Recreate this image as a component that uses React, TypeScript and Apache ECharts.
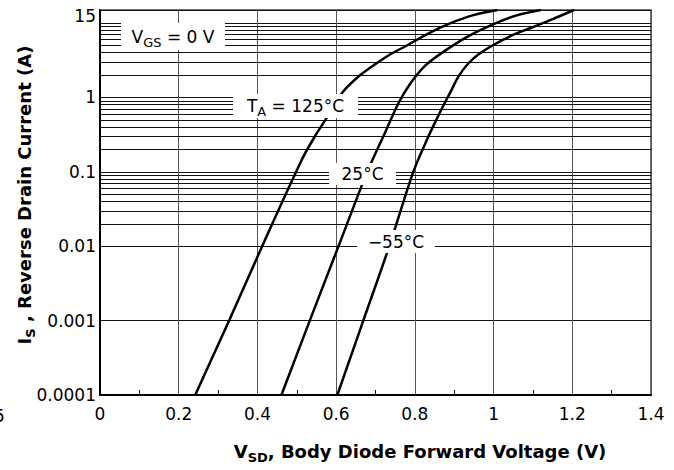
import React, { useEffect, useRef } from 'react';
import * as echarts from 'echarts';

// Curve data (VSD in volts, IS in amperes)
const vsd125 = [0.242, 0.328, 0.412, 0.514, 0.547, 0.578, 0.616, 0.654, 0.695, 0.738, 0.781, 0.835, 0.891, 0.949, 1.01];
const is125 = [0.0001, 0.001, 0.01, 0.15, 0.306, 0.553, 1.17, 1.86, 2.7, 3.81, 5.04, 7.3, 10, 12.8, 15];

const vsd25 = [0.461, 0.533, 0.606, 0.679, 0.723, 0.758, 0.789, 0.827, 0.878, 0.941, 1.018, 1.061, 1.12];
const is25 = [0.0001, 0.001, 0.01, 0.1, 0.326, 0.83, 1.55, 2.7, 4.3, 6.9, 10.6, 12.8, 15];

const vsdM55 = [0.603, 0.669, 0.735, 0.796, 0.832, 0.865, 0.891, 0.911, 0.934, 0.962, 0.997, 1.043, 1.094, 1.15, 1.204];
const isM55 = [0.0001, 0.001, 0.01, 0.1, 0.28, 0.65, 1.2, 1.92, 2.8, 3.8, 5.0, 6.7, 8.6, 11.3, 15];

const xMin = 0;
const xMax = 1.4;
const xInterval = 0.2;
const yMin = 0.0001;
const yMax = 15;
const yMaxLabel = '15';

// log minor gridlines: 2..9 within each decade
const minorDecades = [0.0001, 0.001, 0.01, 0.1, 1];
const minorSteps = [2, 3, 4, 5, 6, 7, 8, 9];

const FONT = 'DejaVu Sans';

export default function App() {
  const ref = useRef<HTMLDivElement>(null);

  useEffect(() => {
    const chart = echarts.init(ref.current as HTMLDivElement, null, { renderer: 'svg' });

    const minorLines: any[] = [];
    minorDecades.forEach((d) =>
      minorSteps.forEach((m) => minorLines.push({ yAxis: Number((d * m).toPrecision(3)) }))
    );

    const pairs = (v: number[], i: number[]) => v.map((x, k) => [x, i[k]]);

    const richNormal = { fontFamily: FONT, fontSize: 17, color: '#000', lineHeight: 24 };
    const richSub = { fontFamily: FONT, fontSize: 13, color: '#000', lineHeight: 14, verticalAlign: 'bottom' };
    const richBold = { fontFamily: FONT, fontSize: 18, fontWeight: 'bold', color: '#000', lineHeight: 25 };
    const richBoldSub = { fontFamily: FONT, fontSize: 13, fontWeight: 'bold', color: '#000', lineHeight: 14, verticalAlign: 'bottom' };

    const lineSeries = (name: string, v: number[], i: number[], extra: any = {}) => ({
      name,
      type: 'line',
      data: pairs(v, i),
      showSymbol: false,
      symbol: 'none',
      smooth: 0.3,
      lineStyle: { color: '#000', width: 2.5 },
      z: 3,
      ...extra,
    });

    const box = (cx: number, cy: number, w: number, h: number, text: string) => [
      {
        type: 'rect',
        z: 100,
        shape: { x: cx - w / 2, y: cy - h / 2, width: w, height: h },
        style: { fill: '#fff' },
        silent: true,
      },
      {
        type: 'text',
        z: 101,
        x: cx,
        y: cy,
        silent: true,
        style: {
          text,
          rich: { n: richNormal, s: richSub },
          align: 'center',
          verticalAlign: 'middle',
        },
      },
    ];

    chart.setOption({
      animation: false,
      backgroundColor: '#fff',
      grid: {
        left: 100,
        right: 23,
        top: 10,
        bottom: 75,
        show: true,
        borderColor: '#444',
        borderWidth: 1.5,
        backgroundColor: 'transparent',
      },
      xAxis: {
        type: 'value',
        min: xMin,
        max: xMax,
        interval: xInterval,
        axisLine: { show: true, onZero: false, lineStyle: { color: '#000', width: 2 } },
        axisTick: { show: false, inside: true },
        minorTick: { show: true, splitNumber: 2, length: 5, lineStyle: { color: '#000', width: 1 } },
        splitLine: { show: true, lineStyle: { color: '#555', width: 1 } },
        axisLabel: { fontFamily: FONT, fontSize: 17, color: '#000', margin: 10 },
      },
      yAxis: {
        type: 'log',
        logBase: 10,
        min: yMin,
        max: yMax,
        axisLine: { show: true, lineStyle: { color: '#000', width: 2 } },
        axisTick: { show: false },
        splitLine: { show: true, lineStyle: { color: '#111', width: 1 } },
        axisLabel: {
          fontFamily: FONT,
          fontSize: 17,
          color: '#000',
          margin: 4,
          formatter: (val: number) => {
            const v = Number(val.toPrecision(6));
            if (v >= yMax - 0.01) return '{top|' + yMaxLabel + '}';
            if (v > 9.9 && v < 10.1) return '';
            return String(v);
          },
          rich: { top: { fontFamily: FONT, fontSize: 17, color: '#000', padding: [11, 0, 0, 0] } },
        },
      },
      series: [
        lineSeries('125', vsd125, is125, {
          markLine: {
            silent: true,
            symbol: ['none', 'none'],
            label: { show: false },
            lineStyle: { color: '#111', width: 1, type: 'solid' },
            data: minorLines,
            z: 1,
          },
        }),
        lineSeries('25', vsd25, is25),
        lineSeries('-55', vsdM55, isM55),
      ],
      graphic: [
        ...box(173, 36.5, 104, 27, '{n|V}{s|GS}{n| = 0 V}'),
        ...box(295.5, 106, 125, 24, '{n|T}{s|A}{n| = 125°C}'),
        ...box(362.5, 174, 67, 22, '{n|25°C}'),
        ...box(396, 241.5, 78, 23, '{n|−55°C}'),
        {
          type: 'text',
          x: 24,
          y: 195,
          rotation: Math.PI / 2,
          silent: true,
          style: {
            text: '{b|I}{bs|S}{b| , Reverse Drain Current (A)}',
            rich: { b: richBold, bs: richBoldSub },
            align: 'center',
            verticalAlign: 'middle',
          },
        },
        {
          type: 'text',
          x: 420,
          y: 451,
          silent: true,
          style: {
            text: '{b|V}{bs|SD}{b|, Body Diode Forward Voltage (V)}',
            rich: { b: richBold, bs: richBoldSub },
            align: 'center',
            verticalAlign: 'middle',
          },
        },
        {
          type: 'text',
          x: -6,
          y: 416,
          silent: true,
          style: { text: '5', fontFamily: FONT, fontSize: 17, fill: '#000', verticalAlign: 'middle' },
        },
      ],
    });

    return () => chart.dispose();
  }, []);

  return (
    <div
      ref={ref}
      style={{ position: 'fixed', left: 0, top: 0, width: 674, height: 470, background: '#fff' }}
    />
  );
}
